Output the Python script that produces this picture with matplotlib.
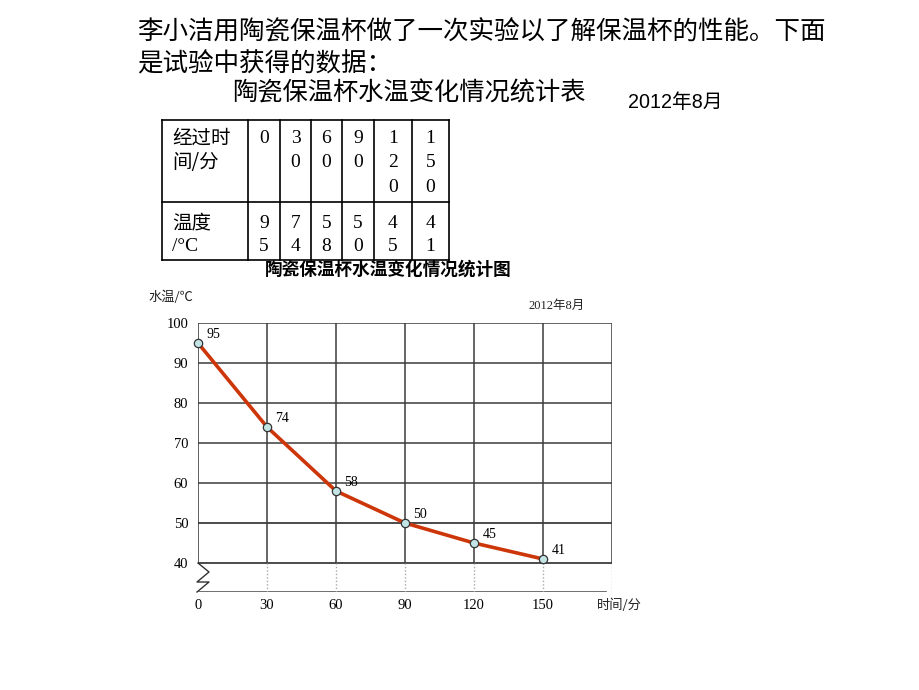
import matplotlib
matplotlib.use("Agg")
import matplotlib.pyplot as plt

plt.rcParams['font.family'] = ['Noto Sans CJK SC', 'DejaVu Sans']

# data
times = [0, 30, 60, 90, 120, 150]
temps = [95, 74, 58, 50, 45, 41]
y_ticks = [40, 50, 60, 70, 80, 90, 100]

intro_1 = '李小洁用陶瓷保温杯做了一次实验以了解保温杯的性能。下面'
intro_2 = '是试验中获得的数据：'
table_title = '陶瓷保温杯水温变化情况统计表'
chart_title = '陶瓷保温杯水温变化情况统计图'
date_text = '2012年8月'
row_head_1 = ['经过时', '间/分']
row_head_2 = ['温度', '/°C']

SERIF = ['Liberation Serif', 'Noto Sans CJK SC']

fig = plt.figure(figsize=(9.2, 6.9), dpi=100)

# page overlay in pixel coordinates
pg = fig.add_axes([0, 0, 1, 1])
pg.set_xlim(0, 920)
pg.set_ylim(690, 0)
pg.axis('off')

pg.text(137, 33, intro_1, fontsize=18.4, va='center', ha='left')
pg.text(137, 64, intro_2, fontsize=18.4, va='center', ha='left')
pg.text(232, 94, table_title, fontsize=18.2, va='center', ha='left')
pg.text(628, 102, date_text, fontsize=14.2, va='center', ha='left',
        family=['Liberation Sans', 'Noto Sans CJK SC'])

# table
col_x = [162, 248, 280, 311, 342, 374, 412, 449]
row_y = [120, 202, 260]
for x in col_x:
    pg.plot([x, x], [row_y[0], row_y[-1]], color='black', lw=1.2)
for y in row_y:
    pg.plot([col_x[0], col_x[-1]], [y, y], color='black', lw=1.2)

for i, s in enumerate(row_head_1):
    pg.text(172, 138 + i * 24.5, s, fontsize=14, va='center', ha='left')
for i, s in enumerate(row_head_2):
    pg.text(172, 223 + i * 23.5, s, fontsize=14, va='center', ha='left',
            family=SERIF if i else None)

for j, (t, v) in enumerate(zip(times, temps)):
    cx = (col_x[j + 1] + col_x[j + 2]) / 2
    for k, ch in enumerate(str(t)):
        pg.text(cx, 138.5 + k * 24.3, ch, fontsize=14, ha='center', va='center',
                family=SERIF)
    for k, ch in enumerate(str(v)):
        pg.text(cx, 223 + k * 23.5, ch, fontsize=14, ha='center', va='center',
                family=SERIF)

# chart labels
pg.text(388, 270, chart_title, fontsize=12.7, fontweight='bold',
        ha='center', va='center')
pg.text(148, 297, '水温/℃', fontsize=9.5, ha='left', va='center', color='#222222')
pg.text(528, 306, date_text, fontsize=9, ha='left', va='center',
        family=SERIF, color='#222222')
pg.text(597, 605, '时间/分', fontsize=9.5, ha='left', va='center', color='#222222')

# break mark on the y axis
pg.plot([198, 209, 197, 209, 197], [563, 572, 582, 582, 592],
        color='#333333', lw=1)

# chart
ax = fig.add_axes([198 / 920, 1 - 592 / 690, 414 / 920, 269 / 690])
ax.patch.set_alpha(0)
y_low = 32.75
ax.set_xlim(0, 180)
ax.set_ylim(y_low, 100)
for s in ax.spines.values():
    s.set_visible(False)

brk = (40 - y_low) / (100 - y_low)
for y in y_ticks:
    ax.axhline(y, color='#1a1a1a' if y <= 50 else '#3c3c3c', lw=1.1, zorder=1)
ax.axhline(y_low, xmax=0.985, color='#555555', lw=1.2, zorder=1)
for x in times[1:] + [180]:
    ax.axvline(x, ymin=brk, color='#3c3c3c', lw=1.1, zorder=1)
    ax.axvline(x, ymax=brk, color='#aaaaaa', lw=1, ls=(0, (1, 1.5)), zorder=1)
ax.axvline(0, ymin=brk, color='#333333', lw=1.1, zorder=1)

ax.plot(times, temps, color='#cc3608', lw=2.6, zorder=3, clip_on=False)
ax.plot(times, temps, 'o', ms=6, mfc='#c2e4e4', mec='#333333', mew=0.9,
        zorder=4, clip_on=False)
for t, v in zip(times, temps):
    ax.annotate(str(v), (t, v), xytext=(6, 6), textcoords='offset points',
                ha='left', va='center', fontsize=10, family=SERIF)

ax.set_yticks(y_ticks)
ax.set_yticklabels([str(y) for y in y_ticks], family=SERIF, fontsize=10.5)
ax.set_xticks(times)
ax.set_xticklabels([str(t) for t in times], family=SERIF, fontsize=10.5)
ax.tick_params(length=0)
ax.tick_params(axis='y', pad=7)
ax.tick_params(axis='x', pad=5)

fig.savefig('out.png', dpi=100)
